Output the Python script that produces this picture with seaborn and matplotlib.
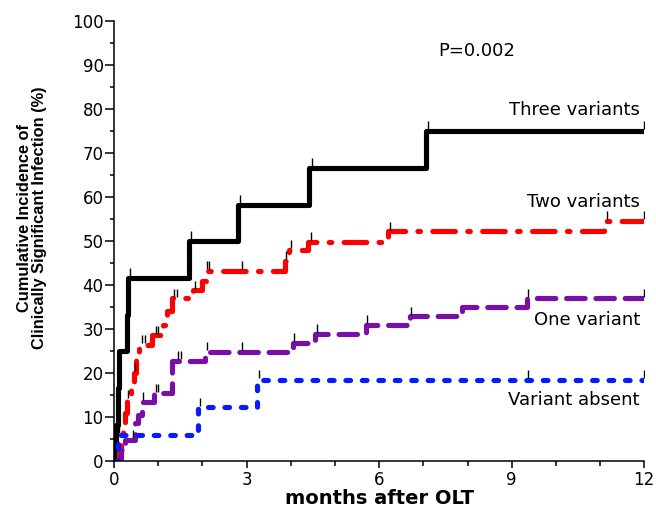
import numpy as np
import pandas as pd
import matplotlib
matplotlib.use("Agg")
import matplotlib.pyplot as plt
import seaborn as sns
from matplotlib.ticker import MultipleLocator

# step curves: time (months) and cumulative incidence (%) after each event
three_t = [0, 0.05, 0.08, 0.1, 0.28, 0.32, 1.7, 2.8, 4.42, 7.05, 12]
three_v = [0, 8.3, 16.7, 25, 33.3, 41.7, 50, 58.3, 66.7, 75, 75]

two_t = [0, 0.1, 0.15, 0.2, 0.25, 0.3, 0.38, 0.45, 0.5, 0.56, 0.86, 1.1, 1.2, 1.3,
         1.78, 2.0, 2.08, 3.87, 3.95, 4.38, 6.2, 11.1, 12]
two_v = [0, 2, 5, 8, 11, 14, 17, 20, 23, 26.4, 28.6, 31, 34, 37,
         38.8, 41, 43.3, 45.5, 48, 49.9, 52.2, 54.6, 54.6]

one_t = [0, 0.15, 0.25, 0.47, 0.54, 0.63, 0.9, 1.32, 2.06, 4.05, 4.55, 5.7, 6.7, 7.87, 9.34, 12]
one_v = [0, 2.5, 4.8, 8.6, 10.5, 13.5, 15.4, 22.8, 24.8, 26.8, 28.9, 30.9, 32.9, 35, 37, 37]

absent_t = [0, 0.08, 1.9, 3.23, 12]
absent_v = [0, 5.9, 12.2, 18.4, 18.4]

# censoring marks (months)
three_cens = [0.35, 1.73, 2.85, 4.47, 7.1, 12]
two_cens = [0.32, 0.48, 0.62, 0.7, 0.95, 1.0, 1.35, 1.42, 1.82, 2.1, 2.15, 2.9, 3.9, 4.0,
            4.45, 6.25, 11.15, 12]
one_cens = [0.42, 0.65, 0.95, 1.0, 1.45, 1.52, 2.1, 2.9, 4.08, 4.6, 5.72, 6.72, 9.36, 12]
absent_cens = [0.12, 1.95, 3.28, 9.36, 12]

groups = ["Three variants", "Two variants", "One variant", "Variant absent"]
times = [three_t, two_t, one_t, absent_t]
values = [three_v, two_v, one_v, absent_v]
censors = [three_cens, two_cens, one_cens, absent_cens]
colors = ["black", "#ff0000", "#7a0fa8", "#0a1aff"]
dash_styles = ["-", (0, (4.4, 2.4, 0.5, 2.4)), (0, (3.6, 2.1)), (0, (0.9, 2.3))]
label_pos = [(11.9, 79.8), (11.9, 58.9), (11.9, 32), (11.9, 13.9)]

sns.set_style("ticks")
plt.rcParams["font.family"] = ["DejaVu Sans"]
plt.rcParams["text.color"] = "black"
plt.rcParams["axes.labelcolor"] = "black"
plt.rcParams["xtick.color"] = "black"
plt.rcParams["ytick.color"] = "black"

fig = plt.figure(figsize=(6.56, 5.14), dpi=100)
ax = fig.add_axes([0.174, 0.103, 0.808, 0.856])

for g, t, v, c, ls, cens in zip(groups, times, values, colors, dash_styles, censors):
    df = pd.DataFrame({"t": t, "v": v})
    line_ax = sns.lineplot(data=df, x="t", y="v", drawstyle="steps-post", estimator=None,
                           sort=False, color=c, linewidth=3.7, ax=ax)
    ln = line_ax.lines[-1]
    ln.set_linestyle(ls)
    ln.set_dash_capstyle("round")
    ln.set_solid_capstyle("butt")
    idx = np.searchsorted(t, cens, side="right") - 1
    cv = np.array(v)[idx] + 1.3
    sns.scatterplot(x=cens, y=cv, marker="|", s=30, color="black", linewidth=1.0,
                    ax=ax, zorder=5)

for g, (x, y) in zip(groups, label_pos):
    ax.text(x, y, g, ha="right", va="center", fontsize=13)

ax.text(8.2, 93.2, "P=0.002", ha="center", va="center", fontsize=13)

ax.set_xlim(0, 12)
ax.set_ylim(0, 100)
ax.xaxis.set_major_locator(MultipleLocator(3))
ax.xaxis.set_minor_locator(MultipleLocator(1))
ax.yaxis.set_major_locator(MultipleLocator(10))
ax.yaxis.set_minor_locator(MultipleLocator(5))
ax.tick_params(axis="x", which="major", length=5, width=1.1, labelsize=12, pad=2)
ax.tick_params(axis="x", which="minor", length=3.5, width=1.1)
ax.tick_params(axis="y", which="major", length=6.5, width=1.1, labelsize=12, pad=1)
ax.tick_params(axis="y", which="minor", length=3, width=1.1)
sns.despine(ax=ax)
for s in ["left", "bottom"]:
    ax.spines[s].set_linewidth(1.1)
    ax.spines[s].set_color("black")

ax.set_xlabel("months after OLT", fontsize=14, fontweight="bold", labelpad=0)
ax.set_ylabel("Cumulative Incidence of\nClinically Significant Infection (%)",
              fontsize=11.8, fontweight="bold", family="Liberation Sans", linespacing=1.05)
ax.yaxis.set_label_coords(-0.126, 0.552)

fig.savefig("out.png", dpi=100)
